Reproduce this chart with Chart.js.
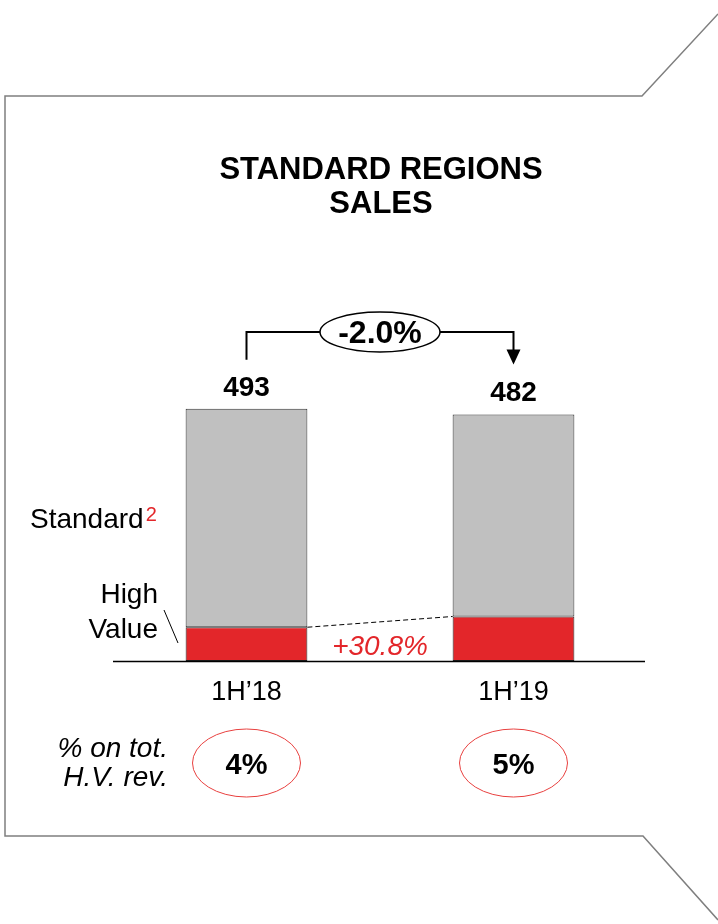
<!DOCTYPE html>
<html>
<head>
<meta charset="utf-8">
<script src="https://cdn.jsdelivr.net/npm/chart.js@4.4.1/dist/chart.umd.min.js"></script>
<style>
    html, body { margin: 0; padding: 0; background: #fff; }
    canvas { display: block; }
</style>
</head>
<body>
<canvas id="salesChart" width="718" height="924"></canvas>
<script>
// Chart data
const categories = ["1H\u201918", "1H\u201919"];
const highValue = [66, 87];
const standard = [427, 395];
const totals = [493, 482];
const hvShare = ["4%", "5%"];
const totalGrowth = "-2.0%";
const hvGrowth = "+30.8%";

const FONT = '"Liberation Sans", Arial, sans-serif';
const RED = "#e3262a";

// Draws the frame, titles, labels and annotations around the bars
const overlayPlugin = {
    id: "overlay",
    afterDraw(chart) {
        const ctx = chart.ctx;
        const area = chart.chartArea;
        const hvMeta = chart.getDatasetMeta(0);
        const stdMeta = chart.getDatasetMeta(1);
        const x = chart.scales.x;
        ctx.save();

        // frame
        ctx.strokeStyle = "#7f7f7f";
        ctx.lineWidth = 1.5;
        ctx.beginPath();
        ctx.moveTo(718, 14);
        ctx.lineTo(642, 96);
        ctx.lineTo(5, 96);
        ctx.lineTo(5, 836);
        ctx.lineTo(643, 836);
        ctx.lineTo(718, 920);
        ctx.stroke();

        // title
        ctx.fillStyle = "#000";
        ctx.textAlign = "center";
        ctx.textBaseline = "alphabetic";
        ctx.font = "bold 31px " + FONT;
        ctx.fillText("STANDARD REGIONS", 381, 179);
        ctx.fillText("SALES", 381, 213);

        // baseline
        ctx.strokeStyle = "#000";
        ctx.lineWidth = 1.6;
        ctx.beginPath();
        ctx.moveTo(area.left, area.bottom + 0.5);
        ctx.lineTo(area.right - 2, area.bottom + 0.5);
        ctx.stroke();

        // totals above bars
        ctx.font = "bold 28px " + FONT;
        const tops = [];
        stdMeta.data.forEach((bar, i) => {
            tops.push(bar.y);
            ctx.fillText(String(totals[i]), bar.x, bar.y - 13);
        });

        // bracket with arrow
        const x0 = stdMeta.data[0].x;
        const x1 = stdMeta.data[1].x;
        const yLine = 332;
        ctx.lineWidth = 2;
        ctx.beginPath();
        ctx.moveTo(x0, tops[0] - 49);
        ctx.lineTo(x0, yLine);
        ctx.lineTo(x1, yLine);
        ctx.lineTo(x1, tops[1] - 64);
        ctx.stroke();
        ctx.beginPath();
        ctx.moveTo(x1 - 7, tops[1] - 65);
        ctx.lineTo(x1 + 7, tops[1] - 65);
        ctx.lineTo(x1, tops[1] - 50);
        ctx.closePath();
        ctx.fill();

        const cx = (x0 + x1) / 2;
        ctx.beginPath();
        ctx.ellipse(cx, yLine, 60, 20, 0, 0, Math.PI * 2);
        ctx.fillStyle = "#fff";
        ctx.fill();
        ctx.lineWidth = 1.5;
        ctx.stroke();
        ctx.fillStyle = "#000";
        ctx.font = "bold 32px " + FONT;
        ctx.fillText(totalGrowth, cx, yLine + 11);

        // dashed link between high value tops
        const hv0 = hvMeta.data[0];
        const hv1 = hvMeta.data[1];
        ctx.setLineDash([5, 3]);
        ctx.lineWidth = 1;
        ctx.beginPath();
        ctx.moveTo(hv0.x + hv0.width / 2, hv0.y);
        ctx.lineTo(hv1.x - hv1.width / 2, hv1.y);
        ctx.stroke();
        ctx.setLineDash([]);

        ctx.fillStyle = RED;
        ctx.font = "italic 28px " + FONT;
        ctx.fillText(hvGrowth, cx, 655);

        // series labels on the left
        ctx.fillStyle = "#000";
        ctx.textAlign = "left";
        ctx.font = "28px " + FONT;
        ctx.fillText("Standard", 30, 528);
        const sw = ctx.measureText("Standard").width;
        ctx.fillStyle = RED;
        ctx.font = "20px " + FONT;
        ctx.fillText("2", 30 + sw + 2, 521);

        ctx.fillStyle = "#000";
        ctx.textAlign = "right";
        ctx.font = "28px " + FONT;
        ctx.fillText("High", 158, 603);
        ctx.fillText("Value", 158, 638);
        ctx.lineWidth = 1;
        ctx.beginPath();
        ctx.moveTo(164, 610);
        ctx.lineTo(178, 643);
        ctx.stroke();

        // category labels
        ctx.textAlign = "center";
        ctx.font = "27px " + FONT;
        categories.forEach((c, i) => {
            ctx.fillText(c, x.getPixelForValue(i), 700);
        });

        // share of total H.V. revenue
        ctx.textAlign = "right";
        ctx.font = "italic 28px " + FONT;
        ctx.fillText("% on tot.", 168, 757);
        ctx.fillText("H.V. rev.", 168, 786);

        ctx.textAlign = "center";
        hvShare.forEach((s, i) => {
            const px = x.getPixelForValue(i);
            ctx.beginPath();
            ctx.ellipse(px, 763, 54, 34, 0, 0, Math.PI * 2);
            ctx.strokeStyle = "#e8403f";
            ctx.lineWidth = 1;
            ctx.stroke();
            ctx.fillStyle = "#000";
            ctx.font = "bold 29px " + FONT;
            ctx.fillText(s, px, 774);
        });

        ctx.restore();
    },
};

const ctx = document.getElementById("salesChart").getContext("2d");
const salesChart = new Chart(ctx, {
    type: "bar",
    data: {
        labels: categories,
        datasets: [
            {
                label: "High Value",
                data: highValue,
                backgroundColor: RED,
                borderColor: "#222",
                borderWidth: 1,
                borderSkipped: false,
            },
            {
                label: "Standard",
                data: standard,
                backgroundColor: "#c0c0c0",
                borderColor: "#333",
                borderWidth: 1,
                borderSkipped: false,
            },
        ],
    },
    options: {
        responsive: false,
        animation: false,
        devicePixelRatio: 1,
        layout: {
            padding: { left: 113, right: 71, top: 354, bottom: 263 },
        },
        datasets: {
            bar: { categoryPercentage: 1, barPercentage: 0.456 },
        },
        scales: {
            x: { stacked: true, display: false },
            y: { stacked: true, display: false, min: 0, max: 600 },
        },
        plugins: {
            legend: { display: false },
            tooltip: { enabled: false },
        },
    },
    plugins: [overlayPlugin],
});
</script>
</body>
</html>
